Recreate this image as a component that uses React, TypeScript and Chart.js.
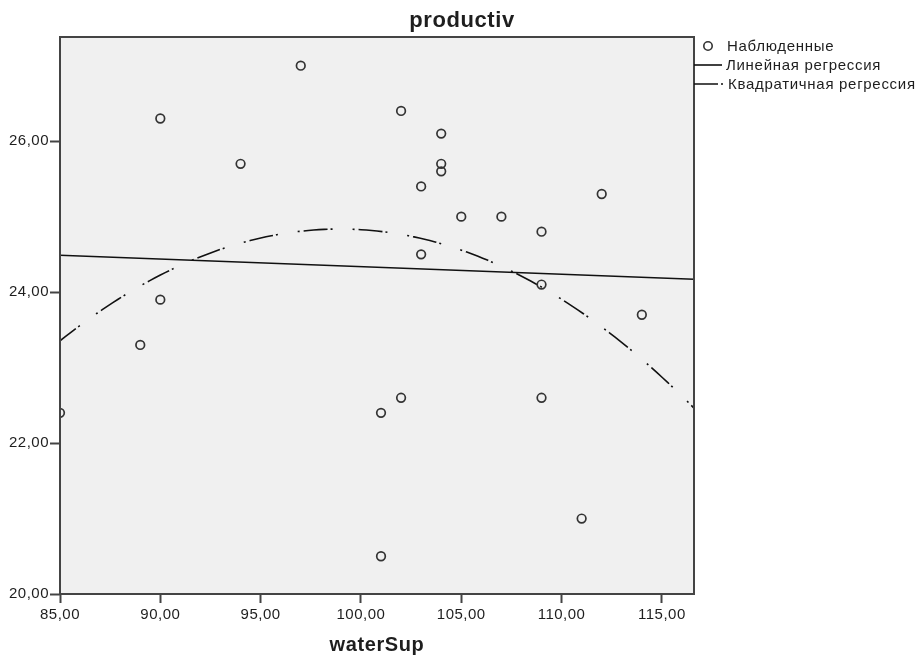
import React, { useEffect, useRef } from 'react';
import { Chart, registerables } from 'chart.js';

Chart.register(...registerables);

// Observed data (waterSup vs productiv)
const waterSup = [85, 89, 90, 90, 94, 97, 101, 101, 102, 102, 103, 103, 104, 104, 104, 105, 107, 109, 109, 109, 111, 112, 114];
const productiv = [22.4, 23.3, 26.3, 23.9, 25.7, 27.0, 22.4, 20.5, 26.4, 22.6, 25.4, 24.5, 26.1, 25.7, 25.6, 25.0, 25.0, 24.8, 24.1, 22.6, 21.0, 25.3, 23.7];

const xTicks = [85, 90, 95, 100, 105, 110, 115];
const yTicks = [20, 22, 24, 26];
const xRange = [85, 116.6];
const yRange = [20, 27.38];

const chartTitle = 'productiv';
const xTitle = 'waterSup';
const legendLabels = ['Наблюденные', 'Линейная регрессия', 'Квадратичная регрессия'];

const FONT = "'Liberation Sans', Arial, sans-serif";
const INK = '#1e1e1e';
const FRAME = '#444';

function fitLinear(xs: number[], ys: number[]) {
  const n = xs.length;
  const mx = xs.reduce((a, b) => a + b, 0) / n;
  const my = ys.reduce((a, b) => a + b, 0) / n;
  let sxy = 0, sxx = 0;
  for (let i = 0; i < n; i++) {
    sxy += (xs[i] - mx) * (ys[i] - my);
    sxx += (xs[i] - mx) * (xs[i] - mx);
  }
  const b = sxy / sxx;
  return (x: number) => my + b * (x - mx);
}

function fitQuadratic(xs: number[], ys: number[]) {
  const n = xs.length;
  const mx = xs.reduce((a, b) => a + b, 0) / n;
  const s = [0, 0, 0, 0, 0];
  const t = [0, 0, 0];
  for (let i = 0; i < n; i++) {
    const u = xs[i] - mx;
    let p = 1;
    for (let k = 0; k < 5; k++) { s[k] += p; p *= u; }
    t[0] += ys[i]; t[1] += ys[i] * u; t[2] += ys[i] * u * u;
  }
  const A = [
    [s[0], s[1], s[2], t[0]],
    [s[1], s[2], s[3], t[1]],
    [s[2], s[3], s[4], t[2]],
  ];
  for (let c = 0; c < 3; c++) {
    for (let r = c + 1; r < 3; r++) {
      const f = A[r][c] / A[c][c];
      for (let k = c; k < 4; k++) A[r][k] -= f * A[c][k];
    }
  }
  const coef = [0, 0, 0];
  for (let r = 2; r >= 0; r--) {
    let v = A[r][3];
    for (let k = r + 1; k < 3; k++) v -= A[r][k] * coef[k];
    coef[r] = v / A[r][r];
  }
  return (x: number) => {
    const u = x - mx;
    return coef[0] + coef[1] * u + coef[2] * u * u;
  };
}

const fmt = (v: number) => v.toFixed(2).replace('.', ',');

export default function App() {
  const ref = useRef<HTMLCanvasElement | null>(null);

  useEffect(() => {
    const canvas = ref.current;
    if (!canvas) return;

    const lin = fitLinear(waterSup, productiv);
    const quad = fitQuadratic(waterSup, productiv);
    const linPts = [xRange[0], xRange[1]].map((x) => ({ x, y: lin(x) }));
    const quadPts: { x: number; y: number }[] = [];
    const steps = 120;
    for (let i = 0; i <= steps; i++) {
      const x = xRange[0] + ((xRange[1] - xRange[0]) * i) / steps;
      quadPts.push({ x, y: quad(x) });
    }

    const decor = {
      id: 'decor',
      beforeDraw(chart: any) {
        (chart.ctx as any).letterSpacing = '0.5px';
      },
      beforeDatasetsDraw(chart: any) {
        const { ctx, chartArea: a } = chart;
        ctx.save();
        ctx.fillStyle = '#f0f0f0';
        ctx.fillRect(a.left, a.top, a.right - a.left, a.bottom - a.top);
        ctx.restore();
      },
      afterDraw(chart: any) {
        const { ctx, chartArea: a } = chart;
        ctx.save();
        // frame
        ctx.strokeStyle = FRAME;
        ctx.lineWidth = 2;
        ctx.strokeRect(a.left, a.top, a.right - a.left, a.bottom - a.top);

        // title
        ctx.fillStyle = INK;
        ctx.textAlign = 'center';
        ctx.textBaseline = 'alphabetic';
        ctx.letterSpacing = '0.6px';
        ctx.font = `bold 22px ${FONT}`;
        ctx.fillText(chartTitle, 462, 27);
        // x axis title
        ctx.font = `bold 20px ${FONT}`;
        ctx.fillText(xTitle, (a.left + a.right) / 2, 651);

        // legend
        const lx = a.right;
        ctx.letterSpacing = '0.7px';
        ctx.font = `15px ${FONT}`;
        ctx.textAlign = 'left';
        ctx.textBaseline = 'middle';
        ctx.fillStyle = INK;
        // observed marker
        ctx.strokeStyle = '#333';
        ctx.lineWidth = 1.6;
        ctx.beginPath();
        ctx.arc(lx + 14, 46, 4.2, 0, Math.PI * 2);
        ctx.stroke();
        ctx.fillText(legendLabels[0], lx + 33, 47);
        // linear
        ctx.strokeStyle = '#111';
        ctx.lineWidth = 1.6;
        ctx.beginPath();
        ctx.moveTo(lx, 65);
        ctx.lineTo(lx + 28, 65);
        ctx.stroke();
        ctx.fillText(legendLabels[1], lx + 32, 66);
        // quadratic
        ctx.setLineDash([24, 3, 2, 20]);
        ctx.beginPath();
        ctx.moveTo(lx, 84);
        ctx.lineTo(lx + 32, 84);
        ctx.stroke();
        ctx.setLineDash([]);
        ctx.fillText(legendLabels[2], lx + 34, 85);
        ctx.restore();
      },
    };

    const chart = new Chart(canvas, {
      type: 'scatter',
      data: {
        datasets: [
          {
            label: legendLabels[2],
            type: 'line',
            data: quadPts,
            borderColor: '#111',
            borderWidth: 1.6,
            borderDash: [2, 4, 24, 3, 2, 20],
            borderDashOffset: 10,
            pointRadius: 0,
            fill: false,
            tension: 0,
            clip: 0,
            order: 2,
          } as any,
          {
            label: legendLabels[1],
            type: 'line',
            data: linPts,
            borderColor: '#111',
            borderWidth: 1.6,
            pointRadius: 0,
            fill: false,
            clip: 0,
            order: 1,
          } as any,
          {
            label: legendLabels[0],
            data: waterSup.map((x, i) => ({ x, y: productiv[i] })),
            pointStyle: 'circle',
            pointRadius: 4.3,
            pointBorderWidth: 1.7,
            borderColor: '#333',
            backgroundColor: 'rgba(0,0,0,0)',
            showLine: false,
            clip: 0,
            order: 0,
          } as any,
        ],
      },
      options: {
        animation: false,
        responsive: false,
        devicePixelRatio: 1,
        layout: { padding: { top: 37, right: 226, left: 0, bottom: 0 } },
        plugins: {
          legend: { display: false },
          title: { display: false },
          tooltip: { enabled: false },
        },
        scales: {
          x: {
            type: 'linear',
            min: xRange[0],
            max: xRange[1],
            afterBuildTicks: (s: any) => { s.ticks = xTicks.map((v) => ({ value: v })); },
            afterFit: (s: any) => { s.height = 62; },
            grid: { display: true, drawOnChartArea: false, drawTicks: true, tickLength: 9, tickColor: FRAME, tickWidth: 2 },
            border: { display: false },
            ticks: {
              autoSkip: false,
              maxRotation: 0,
              padding: 3,
              color: INK,
              font: { family: FONT, size: 15 },
              callback: (v: any) => fmt(Number(v)),
            },
          },
          y: {
            type: 'linear',
            min: yRange[0],
            max: yRange[1],
            afterBuildTicks: (s: any) => { s.ticks = yTicks.map((v) => ({ value: v })); },
            afterFit: (s: any) => { s.width = 60; },
            grid: { display: true, drawOnChartArea: false, drawTicks: true, tickLength: 10, tickColor: FRAME, tickWidth: 2 },
            border: { display: false },
            ticks: {
              autoSkip: false,
              padding: 1,
              color: INK,
              font: { family: FONT, size: 15 },
              callback: (v: any) => fmt(Number(v)),
            },
          },
        },
      },
      plugins: [decor],
    } as any);

    return () => chart.destroy();
  }, []);

  return (
    <div style={{ position: 'fixed', left: 0, top: 0, width: 920, height: 656, background: '#fff' }}>
      <canvas ref={ref} width={920} height={656} style={{ display: 'block', width: 920, height: 656 }} />
    </div>
  );
}
